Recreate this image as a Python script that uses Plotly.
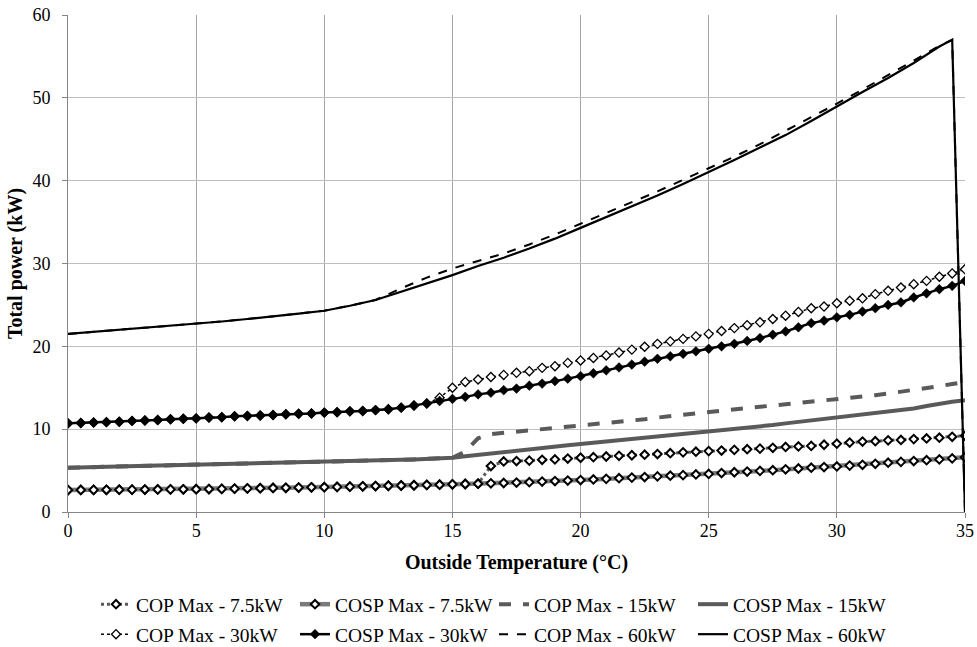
import plotly.graph_objects as go

# Outside temperature (°C), 0.5 °C steps
TEMPS = [0, 0.5, 1, 1.5, 2, 2.5, 3, 3.5, 4, 4.5, 5, 5.5, 6, 6.5, 7, 7.5, 8, 8.5, 9, 9.5,
         10, 10.5, 11, 11.5, 12, 12.5, 13, 13.5, 14, 14.5, 15, 15.5, 16, 16.5, 17, 17.5,
         18, 18.5, 19, 19.5, 20, 20.5, 21, 21.5, 22, 22.5, 23, 23.5, 24, 24.5, 25, 25.5,
         26, 26.5, 27, 27.5, 28, 28.5, 29, 29.5, 30, 30.5, 31, 31.5, 32, 32.5, 33, 33.5,
         34, 34.5, 35]

# Temperatures for the 60 kW curves
TEMPS_60 = [0, 1, 2, 3, 4, 5, 6, 7, 8, 9, 10, 11, 12, 13, 14, 15, 16, 17, 18, 19, 20,
            21, 22, 23, 24, 25, 26, 27, 28, 29, 30, 31, 32, 33, 34, 34.5, 35]

COP_7_5 = [2.65, 2.66, 2.67, 2.68, 2.69, 2.70, 2.71, 2.72, 2.73, 2.74, 2.75, 2.77, 2.79, 2.82,
           2.85, 2.87, 2.90, 2.92, 2.95, 2.98, 3.00, 3.03, 3.06, 3.10, 3.13, 3.17, 3.20, 3.23,
           3.27, 3.30, 3.34, 3.38, 3.42, 5.55, 6.10, 6.15, 6.20, 6.30, 6.35, 6.45, 6.55, 6.62,
           6.70, 6.78, 6.85, 6.92, 7.00, 7.10, 7.20, 7.28, 7.35, 7.42, 7.50, 7.58, 7.65, 7.75,
           7.85, 7.92, 7.98, 8.12, 8.25, 8.38, 8.50, 8.55, 8.65, 8.70, 8.80, 8.88, 8.97, 9.08,
           9.20]

COSP_7_5 = [2.65, 2.66, 2.67, 2.68, 2.69, 2.70, 2.71, 2.72, 2.73, 2.74, 2.75, 2.77, 2.79, 2.82,
            2.85, 2.87, 2.90, 2.92, 2.95, 2.98, 3.00, 3.03, 3.06, 3.10, 3.13, 3.17, 3.20, 3.23,
            3.27, 3.30, 3.34, 3.38, 3.42, 3.46, 3.50, 3.55, 3.60, 3.67, 3.74, 3.80, 3.86, 3.93,
            4.00, 4.08, 4.15, 4.22, 4.30, 4.38, 4.45, 4.53, 4.60, 4.70, 4.80, 4.88, 4.96, 5.05,
            5.15, 5.25, 5.35, 5.42, 5.50, 5.60, 5.70, 5.82, 5.95, 6.05, 6.15, 6.25, 6.35, 6.47,
            6.60]

COP_15 = [5.35, 5.37, 5.40, 5.45, 5.50, 5.52, 5.55, 5.60, 5.65, 5.68, 5.72, 5.76, 5.80, 5.85,
          5.90, 5.94, 5.97, 6.00, 6.03, 6.06, 6.10, 6.12, 6.15, 6.18, 6.22, 6.26, 6.30, 6.35,
          6.40, 6.47, 6.55, 7.30, 8.90, 9.40, 9.55, 9.70, 9.80, 9.95, 10.10, 10.20, 10.35, 10.52,
          10.70, 10.85, 11.00, 11.20, 11.40, 11.58, 11.75, 11.92, 12.10, 12.25, 12.40, 12.55,
          12.70, 12.85, 13.00, 13.12, 13.25, 13.42, 13.60, 13.75, 13.90, 14.10, 14.30, 14.50,
          14.70, 14.95, 15.20, 15.45, 15.70]

COSP_15 = [5.35, 5.37, 5.40, 5.45, 5.50, 5.52, 5.55, 5.60, 5.65, 5.68, 5.72, 5.76, 5.80, 5.85,
           5.90, 5.94, 5.97, 6.00, 6.03, 6.06, 6.10, 6.12, 6.15, 6.18, 6.22, 6.26, 6.30, 6.35,
           6.40, 6.47, 6.55, 6.72, 6.90, 7.07, 7.25, 7.42, 7.60, 7.75, 7.90, 8.05, 8.20, 8.35,
           8.50, 8.62, 8.75, 8.90, 9.05, 9.20, 9.35, 9.50, 9.65, 9.82, 10.00, 10.15, 10.30,
           10.50, 10.70, 10.88, 11.05, 11.18, 11.30, 11.50, 11.70, 11.90, 12.10, 12.30, 12.50,
           12.80, 13.10, 13.30, 13.50]

COP_30 = [10.70, 10.75, 10.80, 10.85, 10.90, 11.00, 11.05, 11.10, 11.20, 11.25, 11.30, 11.40,
          11.45, 11.55, 11.60, 11.65, 11.70, 11.80, 11.85, 11.90, 12.00, 12.05, 12.15, 12.20,
          12.30, 12.40, 12.60, 12.85, 13.10, 13.80, 15.00, 15.70, 16.00, 16.30, 16.55, 16.80,
          17.00, 17.40, 17.60, 18.00, 18.30, 18.60, 18.90, 19.25, 19.60, 19.95, 20.30, 20.60,
          20.90, 21.20, 21.50, 21.85, 22.20, 22.55, 22.90, 23.30, 23.70, 24.15, 24.60, 24.80,
          25.20, 25.50, 25.80, 26.30, 26.70, 27.10, 27.50, 27.90, 28.40, 28.80, 29.30]

COSP_30 = [10.70, 10.75, 10.80, 10.85, 10.90, 11.00, 11.05, 11.10, 11.20, 11.25, 11.30, 11.40,
           11.45, 11.55, 11.60, 11.65, 11.70, 11.80, 11.85, 11.90, 12.00, 12.05, 12.15, 12.20,
           12.30, 12.40, 12.60, 12.85, 13.10, 13.40, 13.65, 13.90, 14.20, 14.40, 14.70, 14.90,
           15.25, 15.50, 15.80, 16.10, 16.40, 16.75, 17.10, 17.45, 17.80, 18.15, 18.50, 18.80,
           19.10, 19.40, 19.70, 20.00, 20.30, 20.65, 21.00, 21.40, 21.80, 22.30, 22.80, 23.10,
           23.50, 23.80, 24.20, 24.60, 25.00, 25.30, 25.90, 26.40, 26.90, 27.30, 27.90]

COP_60 = [21.5, 21.75, 22.0, 22.2, 22.45, 22.7, 23.0, 23.3, 23.6, 23.95, 24.3, 24.9, 25.6,
          27.0, 28.3, 29.4, 30.3, 31.2, 32.3, 33.5, 34.8, 36.1, 37.4, 38.7, 40.1, 41.5, 42.9,
          44.4, 46.0, 47.6, 49.3, 51.0, 52.7, 54.5, 56.3, 57.0, 0.0]

COSP_60 = [21.5, 21.75, 22.0, 22.2, 22.45, 22.7, 23.0, 23.3, 23.6, 23.95, 24.3, 24.9, 25.6,
           26.6, 27.6, 28.6, 29.7, 30.7, 31.8, 33.0, 34.3, 35.6, 36.9, 38.2, 39.6, 41.0, 42.5,
           44.0, 45.5, 47.2, 49.0, 50.7, 52.4, 54.2, 56.2, 57.0, 0.0]

X_TICKS = [0, 5, 10, 15, 20, 25, 30, 35]
Y_TICKS = [0, 10, 20, 30, 40, 50, 60]

GREY = "#5a5a5a"
GREY_L = "#7a7a7a"
FONT = "Liberation Serif"

FIG_W, FIG_H = 977, 647

fig = go.Figure()

MK_BOLD = dict(symbol="diamond", size=6.5, color="white", line=dict(color="black", width=2))

fig.add_trace(go.Scatter(
    x=TEMPS, y=COP_7_5, name="COP Max - 7.5kW", mode="lines+markers", legend="legend",
    line=dict(color=GREY, width=3, dash="dot"), marker=MK_BOLD))
fig.add_trace(go.Scatter(
    x=TEMPS, y=COSP_7_5, name="COSP Max - 7.5kW", mode="lines+markers", legend="legend",
    line=dict(color=GREY_L, width=4.5), marker=MK_BOLD))
fig.add_trace(go.Scatter(
    x=TEMPS, y=COP_15, name="COP Max - 15kW", mode="lines", legend="legend",
    line=dict(color=GREY, width=4, dash="dash")))
fig.add_trace(go.Scatter(
    x=TEMPS, y=COSP_15, name="COSP Max - 15kW", mode="lines", legend="legend",
    line=dict(color=GREY, width=4)))
fig.add_trace(go.Scatter(
    x=TEMPS, y=COP_30, name="COP Max - 30kW", mode="lines+markers", legend="legend2",
    line=dict(color="black", width=1.5, dash="dot"),
    marker=dict(symbol="diamond", size=7, color="white", line=dict(color="black", width=1.3))))
fig.add_trace(go.Scatter(
    x=TEMPS, y=COSP_30, name="COSP Max - 30kW", mode="lines+markers", legend="legend2",
    line=dict(color="black", width=2.5),
    marker=dict(symbol="diamond", size=7.5, color="black", line=dict(color="black", width=0.5))))
fig.add_trace(go.Scatter(
    x=TEMPS_60, y=COP_60, name="COP Max - 60kW", mode="lines", legend="legend2",
    line=dict(color="black", width=2, dash="dash")))
fig.add_trace(go.Scatter(
    x=TEMPS_60, y=COSP_60, name="COSP Max - 60kW", mode="lines", legend="legend2",
    line=dict(color="black", width=2.2)))

legend_common = dict(orientation="h", xanchor="left", yanchor="top", x=0.0312,
                     xref="paper", yref="container",
                     font=dict(family=FONT, size=19.5, color="black"),
                     entrywidth=154, entrywidthmode="pixels",
                     bgcolor="rgba(0,0,0,0)", borderwidth=0, itemwidth=30)

fig.update_layout(
    template="none",
    width=FIG_W, height=FIG_H,
    margin=dict(l=68, r=12, t=15, b=135, autoexpand=False),
    paper_bgcolor="white", plot_bgcolor="white",
    font=dict(family=FONT, size=18, color="black"),
    showlegend=True,
    legend=dict(**legend_common, y=1 - 585 / FIG_H),
    legend2=dict(**legend_common, y=1 - 615 / FIG_H),
    xaxis=dict(range=[0, 35], tickvals=X_TICKS, ticktext=[str(v) for v in X_TICKS],
               showgrid=True, gridcolor="#a6a6a6", gridwidth=1,
               showline=True, linecolor="#868686", linewidth=1,
               ticks="outside", ticklen=5, tickcolor="#868686",
               zeroline=False, automargin=False, ticklabelstandoff=-3,
               ticklabeloverflow="allow",
               tickfont=dict(family=FONT, size=18, color="black"),
               title=dict(text="<b>Outside Temperature (°C)</b>",
                          font=dict(family=FONT, size=20, color="black"), standoff=15)),
    yaxis=dict(range=[0, 60], tickvals=Y_TICKS, ticktext=[str(v) for v in Y_TICKS],
               showgrid=True, gridcolor="#bfbfbf", gridwidth=1,
               showline=True, linecolor="#868686", linewidth=1,
               ticks="outside", ticklen=5, tickcolor="#868686",
               zeroline=False, automargin=False, ticklabelstandoff=8,
               ticklabeloverflow="allow",
               tickfont=dict(family=FONT, size=18, color="black"),
               title=dict(text="<b>Total power (kW)</b>",
                          font=dict(family=FONT, size=20, color="black"), standoff=4)),
)

# remove the browser's default 8px page margin so the figure fills the window exactly
fig.write_html("out.html", config={"displayModeBar": False},
               post_script="document.body.style.margin='0';")
